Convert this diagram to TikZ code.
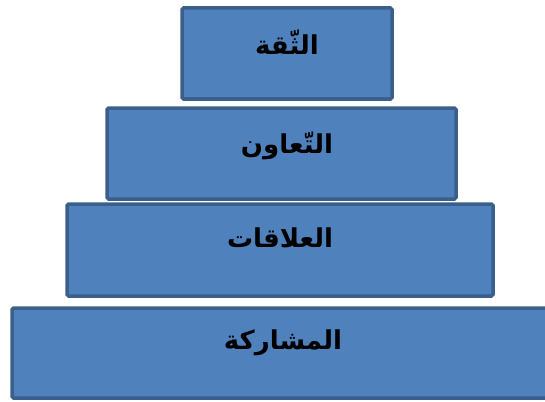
\documentclass[tikz,border=0pt]{standalone}
\usepackage{fontspec}
\newfontfamily\arabicfont[Script=Arabic]{DejaVu Sans}
\TeXXeTstate=1
\definecolor{boxfill}{HTML}{4F81BD}
\definecolor{boxline}{HTML}{3A5F8B}
\begin{document}
\begin{tikzpicture}[x=1pt,y=-1pt,
  tier/.style={draw=boxline,fill=boxfill,line width=3.5pt,rounded corners=1.5pt},
  lbl/.style={font=\arabicfont\bfseries\fontsize{26}{30}\selectfont,text=black,inner sep=0pt}]
\useasboundingbox (0,0) rectangle (545,401);
\draw[tier] (182,8) rectangle (392,99);
\draw[tier] (107,108) rectangle (456,199);
\draw[tier] (67,204) rectangle (493,296);
\draw[tier] (12,308) rectangle (560,398);
\node[lbl] (t1) at (287,42) {\beginR الثّقة\endR};
\node[lbl] (t2) at (287,146) {\beginR التّعاون\endR};
\node[lbl] (t3) at (280,238) {\beginR العلاقات\endR};
\node[lbl] (t4) at (283,343) {\beginR المشاركة\endR};
\end{tikzpicture}
\end{document}
